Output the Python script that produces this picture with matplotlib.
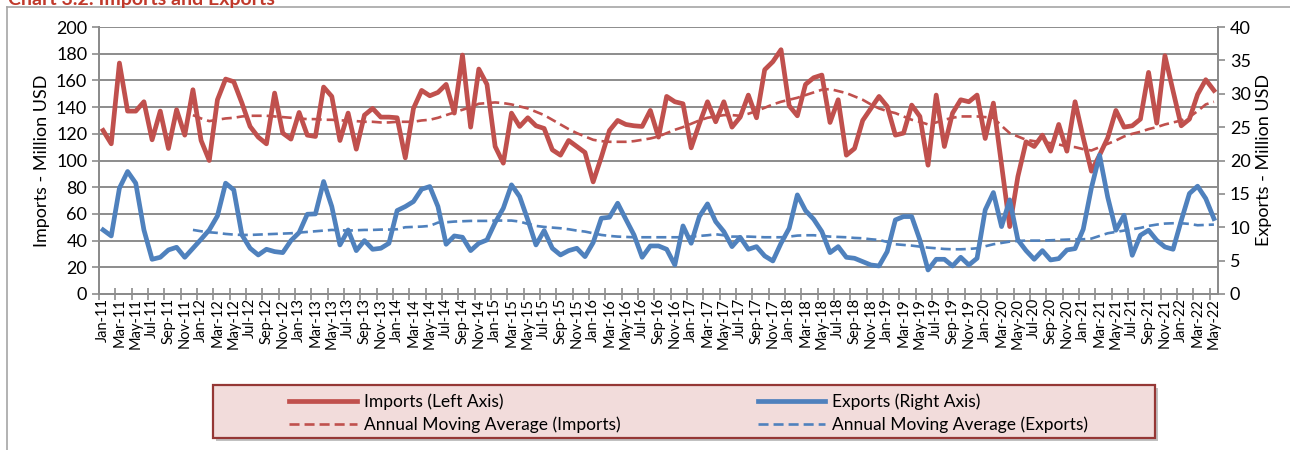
import pandas as pd
import matplotlib
matplotlib.use("Agg")
import matplotlib.pyplot as plt
from matplotlib.patches import Rectangle
import numpy as np

plt.rcParams['font.family'] = ['Lato', 'DejaVu Sans']

# monthly data Jan-11 .. May-22
months = pd.date_range('2011-01-01', periods=137, freq='MS').strftime('%b-%y').tolist()

imports = [122.5, 112.5, 173, 137, 137, 144, 115.5, 137, 109, 138, 119, 153,
           115, 100, 145.5, 161, 159, 143, 125.5, 117.5, 112.5, 150.5, 120.5, 116,
           136, 119, 118, 155, 148, 115, 135.5, 108.5, 134, 139, 132.5, 132.5,
           132, 102, 139, 152.5, 148.5, 151, 157, 135.5, 179, 125, 168.5, 157,
           110.5, 98, 135.5, 125.5, 132, 126, 124, 108, 104, 115, 110.5, 106,
           84, 102.5, 122.5, 130, 127, 126, 125.5, 137.5, 117.5, 148, 144, 142.5,
           109.5, 127.5, 144, 129, 144, 125, 132.5, 149, 132, 168, 174, 183,
           141, 133.5, 157, 162, 164, 128.5, 145.5, 104, 109, 130, 139, 148,
           140.5, 119, 120.5, 141.5, 133, 96.5, 149, 110.5, 135.5, 145.5, 144, 149,
           116.5, 143, 97, 50.5, 88, 114, 110.5, 119, 107, 127, 107, 144,
           117, 92, 104, 117, 137.5, 125, 126, 131, 166, 128, 178.5, 152,
           126, 131, 149.5, 160.5, 152.5]

# annual moving average of imports, from Dec-11
imports_ma = [134, 131.5, 129.5, 130.5, 131.5, 132, 133, 133.5, 133.5, 133.5, 133, 132.5,
              132, 131.5, 131, 131, 130.5, 130.5, 130, 130, 129.5, 129, 129, 128.5,
              128.5, 129, 129, 129, 130, 130.5, 132, 134, 136, 138, 140, 142.5,
              143, 143.5, 143, 142, 140.5, 139, 136.5, 134, 130.5, 127, 123.5, 120.5,
              118, 115.5, 114.5, 114, 114, 114, 114.5, 115.5, 116.5, 118, 120.5, 123,
              125, 127.5, 130, 132, 133, 134, 134, 133.5, 135, 137, 139.5, 142,
              144, 145.5, 147, 149, 151, 153, 153.5, 152, 150.5, 148, 145.5, 142,
              139, 137, 135.5, 133, 130.5, 129, 127, 128.5, 130.5, 132, 133, 133,
              133, 132.5, 132, 126, 120.5, 118, 115.5, 114.5, 114, 113, 112, 110.5,
              110, 108.5, 107.5, 110, 112.5, 115, 118, 120, 121.5, 123.5, 125, 127,
              128.5, 130, 132.5, 137, 142, 144]

exports = [9.6, 8.7, 15.85, 18.35, 16.6, 9.6, 5.2, 5.5, 6.6, 7.0, 5.5, 6.85,
           8.2, 9.6, 11.7, 16.6, 15.6, 8.85, 6.85, 5.85, 6.7, 6.35, 6.2, 8.0,
           9.2, 11.95, 12.0, 16.85, 13.1, 7.35, 9.6, 6.5, 8.0, 6.7, 6.85, 7.6,
           12.5, 13.1, 13.85, 15.7, 16.1, 13.1, 7.45, 8.7, 8.5, 6.5, 7.6, 8.1,
           10.7, 12.85, 16.35, 14.6, 11.1, 7.35, 9.5, 6.85, 5.85, 6.5, 6.85, 5.6,
           7.7, 11.35, 11.5, 13.6, 11.2, 8.85, 5.5, 7.2, 7.2, 6.7, 4.35, 10.2,
           7.6, 11.6, 13.5, 10.85, 9.35, 7.1, 8.5, 6.7, 7.1, 5.7, 4.95, 7.6,
           9.85, 14.85, 12.5, 11.2, 9.35, 6.2, 7.1, 5.5, 5.35, 4.85, 4.35, 4.2,
           6.35, 11.1, 11.6, 11.6, 8.1, 3.6, 5.2, 5.2, 4.2, 5.5, 4.35, 5.35,
           12.6, 15.2, 10.1, 14.1, 8.1, 6.5, 5.2, 6.5, 5.1, 5.3, 6.6, 6.8,
           9.7, 15.9, 20.8, 14.5, 9.55, 11.8, 5.8, 8.8, 9.55, 8.05, 7.05, 6.7,
           11.0, 15.05, 16.15, 14.3, 11.3]

exports_ma = [9.6, 9.4, 9.25, 9.15, 9.0, 8.9, 8.85, 8.85, 8.9, 8.95, 9.0, 9.05,
              9.1, 9.2, 9.3, 9.4, 9.5, 9.6, 9.55, 9.5, 9.55, 9.6, 9.6, 9.65,
              9.65, 9.7, 10.0, 10.05, 10.1, 10.2, 10.7, 10.75, 10.85, 10.9, 10.95, 10.95,
              10.95, 11.0, 11.0, 11.0, 10.85, 10.5, 10.2, 10.05, 9.95, 9.85, 9.7, 9.5,
              9.35, 9.1, 8.85, 8.7, 8.6, 8.55, 8.5, 8.5, 8.5, 8.5, 8.5, 8.5,
              8.5, 8.6, 8.7, 8.8, 8.95, 8.8, 8.6, 8.6, 8.6, 8.55, 8.5, 8.5,
              8.5, 8.6, 8.75, 8.8, 8.8, 8.7, 8.6, 8.55, 8.5, 8.4, 8.35, 8.2,
              8.1, 7.8, 7.45, 7.35, 7.25, 7.1, 6.95, 6.85, 6.75, 6.7, 6.7, 6.75,
              6.85, 7.15, 7.45, 7.65, 7.85, 7.95, 8.0, 8.0, 8.0, 8.05, 8.1, 8.15,
              8.2, 8.2, 8.3, 8.7, 9.1, 9.3, 9.5, 9.7, 9.9, 10.2, 10.4, 10.55,
              10.6, 10.6, 10.5, 10.3, 10.35, 10.4]

red = '#C0504D'
blue = '#4F81BD'
grid_c = '#8C8C8C'
dash = (0, (3.8, 1.9))

x = np.arange(len(months))
x_ma = x[len(months) - len(imports_ma):]

fig = plt.figure(figsize=(12.9, 4.5), dpi=100)
ax1 = fig.add_axes([99/1290, 1-294/450, 1119/1290, 267/450])
ax2 = ax1.twinx()

ax1.plot(x, imports, color=red, lw=3.4, solid_joinstyle='round', label='Imports (Left Axis)', zorder=3)
ax1.plot(x_ma, imports_ma, color=red, lw=1.9, ls=dash, label='Annual Moving Average (Imports)', zorder=3)
ax2.plot(x, exports, color=blue, lw=3.4, solid_joinstyle='round', label='Exports (Right Axis)', zorder=3)
ax2.plot(x_ma, exports_ma, color=blue, lw=1.9, ls=dash, label='Annual Moving Average (Exports)', zorder=3)

ax1.set_ylim(0, 200)
ax2.set_ylim(0, 40)
ax1.set_yticks(np.arange(0, 201, 20))
ax2.set_yticks(np.arange(0, 41, 5))
ax1.set_xlim(-0.5, len(months) - 0.5)
ax1.yaxis.grid(True, color=grid_c, lw=1.4)
ax1.set_axisbelow(True)

# ticks at category boundaries, labels on every second month
ax1.set_xticks(np.arange(-0.5, len(months), 2))
ax1.set_xticklabels([])
ax1.set_xticks(x[::2], minor=True)
ax1.set_xticklabels(months[::2], minor=True, rotation=90, fontsize=10.5)
ax1.tick_params(axis='x', which='major', direction='inout', length=9, color=grid_c, width=1.2)
ax1.tick_params(axis='x', which='minor', length=0, pad=3)

ax1.tick_params(axis='y', labelsize=13, length=5, color=grid_c, width=1.2)
ax2.tick_params(axis='y', labelsize=13, length=5, color=grid_c, width=1.2)
ax1.set_ylabel('Imports - Million USD', fontsize=13)
ax2.set_ylabel('Exports - Million USD', fontsize=13)

for ax in (ax1, ax2):
    for s in ax.spines.values():
        s.set_color(grid_c)
        s.set_linewidth(1.4)
    ax.spines['top'].set_visible(False)

# outer chart frame and (cut off) title
fig.add_artist(plt.Line2D([7/1290, 7/1290], [0, 1-7/450], color='#A6A6A6', lw=1.2))
fig.add_artist(plt.Line2D([7/1290, 1], [1-7/450, 1-7/450], color='#A6A6A6', lw=1.2))
fig.text(8/1290, 1-5/450, 'Chart 3.2: Imports and Exports', color='#C0392B',
         fontsize=14, fontweight='bold', va='baseline')

# legend box
fig.add_artist(Rectangle((216/1290, 1-441/450), 942/1290, 53/450, transform=fig.transFigure,
                         facecolor='#999999', edgecolor='none', alpha=0.6))
fig.add_artist(Rectangle((213/1290, 1-438/450), 942/1290, 53/450, transform=fig.transFigure,
                         facecolor='#F2DCDB', edgecolor='#953735', lw=1.6))
h1, l1 = ax1.get_legend_handles_labels()
h2, l2 = ax2.get_legend_handles_labels()
fig.legend(h1 + h2, l1 + l2, ncol=2, loc='center', bbox_to_anchor=(0.534, 1-413/450),
           frameon=False, fontsize=12.5, handlelength=3.9, handletextpad=0.4,
           columnspacing=7.9, labelspacing=0.35)

fig.savefig('out.png', dpi=100)
